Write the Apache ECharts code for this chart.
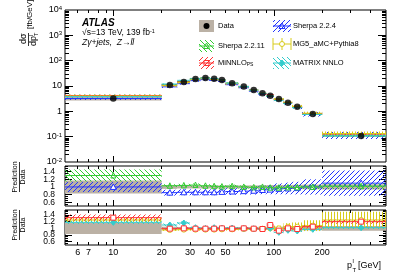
<!DOCTYPE html>
<html><head><meta charset="utf-8">
<script src="https://cdn.jsdelivr.net/npm/echarts@6/dist/echarts.min.js"></script>
<style>html,body{margin:0;padding:0;background:#fff}#c{width:407px;height:276px}</style>
</head><body><div id="c"></div>
<script>
// ---- data ----
const binLo = [5,20,25,30,35,40,45,50,60,70,80,90,100,115,130,150,200];
const binHi = [20,25,30,35,40,45,50,60,70,80,90,100,115,130,150,200,500];
const binCenter = [10,22.5,27.5,32.5,37.5,42.5,47.5,55,65,75,85,95,107.5,122.5,140,175,350];
const dataXsec = [3.2,10.9,14.4,18.9,20.7,19.4,17.3,12.8,9.6,6.95,5.14,4.14,3.07,2.19,1.52,0.78,0.106];
const dataRelUnc = [0.17,0.05,0.04,0.04,0.04,0.04,0.04,0.04,0.04,0.04,0.045,0.05,0.05,0.05,0.055,0.06,0.07];
const ratioSherpa2211 = [1.30,1.03,1.04,1.05,1.03,1.02,1.01,1.02,1.00,0.99,1.00,0.98,0.98,0.99,0.99,1.00,1.02];
const uncSherpa2211 = [0.12,0.04,0.04,0.04,0.04,0.04,0.04,0.04,0.04,0.04,0.04,0.04,0.05,0.05,0.05,0.06,0.07];
const ratioSherpa224 = [1.00,0.85,0.86,0.86,0.86,0.86,0.87,0.88,0.89,0.90,0.92,0.93,0.95,0.96,0.97,1.00,1.10];
const uncSherpa224 = [0.13,0.09,0.09,0.09,0.09,0.09,0.09,0.10,0.10,0.11,0.12,0.13,0.15,0.16,0.17,0.20,0.30];
const ratioMiNNLO = [1.32,0.99,1.00,0.99,0.99,0.99,1.00,0.99,1.00,0.99,0.98,1.10,0.93,1.00,0.98,1.05,1.20];
const uncMiNNLO = [0.07,0.03,0.03,0.03,0.03,0.03,0.03,0.03,0.03,0.03,0.03,0.04,0.04,0.04,0.04,0.05,0.05];
const ratioMG5 = [1.25,0.95,0.96,0.96,0.96,0.96,0.97,0.97,0.98,0.98,0.99,1.00,1.00,1.05,1.05,1.08,1.25];
const uncMG5 = [0.05,0.03,0.03,0.03,0.03,0.03,0.03,0.04,0.04,0.05,0.06,0.07,0.08,0.10,0.12,0.15,0.20];
const ratioMATRIX = [1.18,1.10,1.16,1.02,1.00,1.02,1.01,1.01,1.00,0.99,0.98,1.00,0.88,0.94,0.92,0.97,1.02];
const uncMATRIX = [0.04,0.04,0.04,0.03,0.03,0.03,0.03,0.03,0.03,0.03,0.03,0.03,0.03,0.03,0.03,0.03,0.04];
const xTickLabels = [6,7,10,20,30,40,50,100,200];
const yMainLabels = [0.01,0.1,1,10,100,1000,10000];
const ratioTickLabels = [0.6,0.8,1,1.2,1.4];

// ---- helpers ----
const FONT = 'Liberation Sans';
const C = {grey:'#bbb1a5', green:'#33cc33', blue:'#2233ff', red:'#ff3333', yellow:'#d8cc1a', cyan:'#33cccc'};
const patCache = {};
function hatch(color, dir, s) {
  s = s || 5;
  const key = color + dir + s;
  if (patCache[key]) return patCache[key];
  const c = document.createElement('canvas'); c.width = s; c.height = s;
  const ctx = c.getContext('2d');
  ctx.strokeStyle = color; ctx.lineWidth = 1;
  ctx.beginPath();
  if (dir === '/') { ctx.moveTo(-1, s + 1); ctx.lineTo(s + 1, -1); }
  else if (dir === '\\') { ctx.moveTo(-1, -1); ctx.lineTo(s + 1, s + 1); }
  else { ctx.moveTo(s / 2, 0); ctx.lineTo(s / 2, s); }
  ctx.stroke();
  return (patCache[key] = {image: c, repeat: 'repeat'});
}
function markerEl(type, p, color, r) {
  r = r || 2.5;
  const st = {fill: '#fff', stroke: color, lineWidth: 1};
  if (type === 'circle') return {type:'circle', shape:{cx:p[0], cy:p[1], r:r}, style:st};
  if (type === 'square') return {type:'rect', shape:{x:p[0]-r, y:p[1]-r, width:2*r, height:2*r}, style:st};
  if (type === 'tri') return {type:'polygon', shape:{points:[[p[0],p[1]-r-0.5],[p[0]+r+0.5,p[1]+r],[p[0]-r-0.5,p[1]+r]]}, style:st};
  if (type === 'star') return {type:'polygon', shape:{points:[[p[0],p[1]-r-0.5],[p[0]+r,p[1]+r],[p[0]-r,p[1]+r]]}, style:{fill:'none', stroke:color, lineWidth:1}};
  return {type:'polygon', shape:{points:[[p[0],p[1]-r-0.5],[p[0]+r,p[1]],[p[0],p[1]+r+0.5],[p[0]-r,p[1]]]}, style:{fill: color, stroke: color, lineWidth: 1}};
}

const grids = [
  {left:65, top:10, width:321, height:152},
  {left:65, top:166, width:321, height:40},
  {left:65, top:210, width:321, height:35}
].map(g => Object.assign(g, {show:true, borderColor:'#000', borderWidth:1, backgroundColor:'transparent', containLabel:false}));

const xAxes = [], yAxes = [];
const majX = [10,100], minX = [6,7,8,9,20,30,40,50,60,70,80,90,200,300,400];
function addX(g, pos, ticks, len, labels) {
  xAxes.push({type:'log', logBase:10, gridIndex:g, min:5, max:500, position:pos,
    axisLine:{show:false}, splitLine:{show:false}, minorTick:{show:false},
    axisTick:{show:true, inside:true, length:len, customValues:ticks, lineStyle:{color:'#000', width:1}},
    axisLabel: labels ? {show:true, customValues:labels, margin:3, fontSize:9, color:'#000', fontFamily:FONT, hideOverlap:false} : {show:false}
  });
  return xAxes.length - 1;
}
function addY(g, pos, type, min, max, ticks, len, labelCfg) {
  const ax = {type:type, gridIndex:g, min:min, max:max, position:pos,
    axisLine:{show:false}, splitLine:{show:false}, minorTick:{show:false},
    axisTick: ticks ? {show:true, inside:true, length:len, customValues:ticks, lineStyle:{color:'#000', width:1}} : {show:false},
    axisLabel: labelCfg ? Object.assign({show:true, color:'#000', fontFamily:FONT, hideOverlap:false}, labelCfg) : {show:false}
  };
  if (type === 'log') ax.logBase = 10;
  yAxes.push(ax);
  return yAxes.length - 1;
}
const xIdx = [], yIdx = [];
for (let g = 0; g < 3; g++) {
  xIdx[g] = addX(g, 'bottom', majX, 6, g === 2 ? xTickLabels : null);
  addX(g, 'bottom', minX, 3);
  addX(g, 'top', majX, 6);
  addX(g, 'top', minX, 3);
}
// main y
const yMajor = [0.1,1,10,100,1000];
const yMinor = [];
for (let e = -2; e <= 3; e++) for (let m = 2; m <= 9; m++) yMinor.push(Number((m * Math.pow(10, e)).toPrecision(3)));
yIdx[0] = addY(0, 'left', 'log', 0.01, 10000, yMajor, 8, {customValues: yMainLabels, margin: 3, fontSize: 9,
  formatter: v => { const e = Math.round(Math.log10(v)); if (e === 0) return '1'; if (e === 1) return '10'; return '10{s|' + e + '}'; },
  rich: {s: {fontSize: 6, verticalAlign: 'top', lineHeight: 6, fontFamily: FONT, color:'#000'}}});
addY(0, 'left', 'log', 0.01, 10000, yMinor, 4);
addY(0, 'right', 'log', 0.01, 10000, yMajor, 8);
addY(0, 'right', 'log', 0.01, 10000, yMinor, 4);
const rMinor = [];
for (let i = 11; i <= 31; i++) rMinor.push(Number((i * 0.05).toFixed(2)));
for (let g = 1; g <= 2; g++) {
  yIdx[g] = addY(g, 'left', 'value', 0.5, 1.55, ratioTickLabels, 7, null);
  addY(g, 'left', 'value', 0.5, 1.55, rMinor, 3);
  addY(g, 'right', 'value', 0.5, 1.55, ratioTickLabels, 7);
  addY(g, 'right', 'value', 0.5, 1.55, rMinor, 3);
  // one label per axis so no label is dropped as overlapping
  ratioTickLabels.forEach(v => addY(g, 'left', 'value', 0.5, 1.55, null, 0,
    {customValues: [v], margin: 10, fontSize: 8.5, formatter: t => String(t)}));
}

function predSeries(g, ratio, unc, color, dir, marker, z) {
  const isMain = g === 0;
  return {
    type: 'custom', xAxisIndex: xIdx[g], yAxisIndex: yIdx[g], z: z, clip: true, silent: true,
    data: binCenter.map((c, i) => {
      const base = isMain ? dataXsec[i] : 1;
      const v = base * ratio[i];
      return [binLo[i], binHi[i], v * (1 - unc[i]), v * (1 + unc[i]), v, c];
    }),
    renderItem(params, api) {
      const a = api.coord([api.value(0), api.value(3)]);
      const b = api.coord([api.value(1), api.value(2)]);
      const l = api.coord([api.value(0), api.value(4)]);
      const r = api.coord([api.value(1), api.value(4)]);
      const m = api.coord([api.value(5), api.value(4)]);
      const ch = [
        {type:'rect', shape:{x:a[0], y:a[1], width:b[0]-a[0], height:Math.max(1.5, b[1]-a[1])}, style:{fill: hatch(color, dir, dir === '|' ? 3 : 5)}},
        {type:'line', shape:{x1:l[0], y1:l[1], x2:r[0], y2:r[1]}, style:{stroke: color, lineWidth: 1}}
      ];
      if (!isMain) ch.push(markerEl(marker, m, color));
      return {type:'group', children: ch};
    }
  };
}
function dataBand(g) {
  const isMain = g === 0;
  return {
    type:'custom', xAxisIndex: xIdx[g], yAxisIndex: yIdx[g], z: 1, clip: true, silent: true,
    data: binCenter.map((c, i) => {
      const base = isMain ? dataXsec[i] : 1;
      return [binLo[i], binHi[i], base * (1 - dataRelUnc[i]), base * (1 + dataRelUnc[i])];
    }),
    renderItem(params, api) {
      const a = api.coord([api.value(0), api.value(3)]);
      const b = api.coord([api.value(1), api.value(2)]);
      return {type:'rect', shape:{x:a[0], y:a[1], width:b[0]-a[0], height:Math.max(1, b[1]-a[1])}, style:{fill: C.grey}};
    }
  };
}
const series = [
  dataBand(0), dataBand(1), dataBand(2),
  predSeries(0, ratioSherpa224, uncSherpa224, C.blue, '/', 'tri', 3),
  predSeries(0, ratioSherpa2211, uncSherpa2211, C.green, '\\', 'star', 3),
  predSeries(0, ratioMiNNLO, uncMiNNLO, C.red, '/', 'square', 3),
  predSeries(0, ratioMG5, uncMG5, C.yellow, '|', 'circle', 3),
  predSeries(0, ratioMATRIX, uncMATRIX, C.cyan, '\\', 'diamond', 3),
  predSeries(1, ratioSherpa224, uncSherpa224, C.blue, '/', 'tri', 3),
  predSeries(1, ratioSherpa2211, uncSherpa2211, C.green, '\\', 'star', 4),
  predSeries(2, ratioMG5, uncMG5, C.yellow, '|', 'circle', 3),
  predSeries(2, ratioMATRIX, uncMATRIX, C.cyan, '\\', 'diamond', 4),
  predSeries(2, ratioMiNNLO, uncMiNNLO, C.red, '/', 'square', 5),
  {type:'scatter', xAxisIndex: xIdx[0], yAxisIndex: yIdx[0], z: 10, silent: true, symbol:'circle', symbolSize: 6.5,
   itemStyle:{color:'#000'}, data: binCenter.map((c, i) => [c, dataXsec[i]])}
];

function txt(x, y, text, size, extra) {
  return {type:'text', x:x, y:y, silent:true, style:Object.assign({text:text, fontSize:size, fontFamily:FONT, fill:'#000', verticalAlign:'middle', align:'left'}, extra || {})};
}
const legendEls = [
  {type:'rect', shape:{x:199, y:20, width:15, height:12}, style:{fill:C.grey}},
  {type:'circle', shape:{cx:206.5, cy:26, r:3}, style:{fill:'#000'}},
  txt(218, 26, 'Data', 7.5),
  {type:'rect', shape:{x:199, y:40, width:15, height:12}, style:{fill:hatch(C.green, '\\')}},
  {type:'line', shape:{x1:199, y1:46, x2:214, y2:46}, style:{stroke:C.green}},
  {type:'polygon', shape:{points:[[206.5,43],[209.5,48.5],[203.5,48.5]]}, style:{fill:'none', stroke:C.green}},
  txt(218, 46, 'Sherpa 2.2.11', 7.5),
  {type:'rect', shape:{x:199, y:57, width:15, height:12}, style:{fill:hatch(C.red, '/')}},
  {type:'line', shape:{x1:199, y1:63, x2:214, y2:63}, style:{stroke:C.red}},
  {type:'rect', shape:{x:204, y:60.5, width:5, height:5}, style:{fill:'none', stroke:C.red}},
  txt(218, 63, 'MiNNLO{s|PS}', 7.5, {rich:{s:{fontSize:5, verticalAlign:'bottom', lineHeight:5, fontFamily:FONT}}}),
  {type:'rect', shape:{x:273, y:20, width:18, height:12}, style:{fill:hatch(C.blue, '/')}},
  {type:'line', shape:{x1:273, y1:26, x2:291, y2:26}, style:{stroke:C.blue}},
  {type:'polygon', shape:{points:[[282,23],[285,28.5],[279,28.5]]}, style:{fill:'none', stroke:C.blue}},
  txt(293, 26, 'Sherpa 2.2.4', 7.5),
  {type:'line', shape:{x1:273, y1:44, x2:291, y2:44}, style:{stroke:C.yellow}},
  {type:'line', shape:{x1:282, y1:38, x2:282, y2:50}, style:{stroke:C.yellow}},
  {type:'line', shape:{x1:273, y1:38, x2:273, y2:50}, style:{stroke:C.yellow}},
  {type:'line', shape:{x1:291, y1:38, x2:291, y2:50}, style:{stroke:C.yellow}},
  {type:'circle', shape:{cx:282, cy:44, r:2.5}, style:{fill:'#fff', stroke:C.yellow}},
  txt(293, 44, 'MG5_aMC+Pythia8', 7.5),
  {type:'rect', shape:{x:273, y:57, width:18, height:12}, style:{fill:hatch(C.cyan, '\\')}},
  {type:'line', shape:{x1:273, y1:63, x2:291, y2:63}, style:{stroke:C.cyan}},
  {type:'polygon', shape:{points:[[282,60],[284.5,63],[282,66],[279.5,63]]}, style:{fill:C.cyan, stroke:C.cyan}},
  txt(293, 63, 'MATRIX NNLO', 7.5)
];
const labelEls = [
  txt(82, 23, 'ATLAS', 10, {fontWeight:'bold', fontStyle:'italic'}),
  txt(82, 33, '\u221As=13 TeV, 139 fb{s|-1}', 8.5, {rich:{s:{fontSize:5.5, verticalAlign:'top', lineHeight:5, fontFamily:FONT}}}),
  txt(82, 43, 'Z\u03B3+jets,  Z\u2192ll', 8.5, {fontStyle:'italic'}),
  // x axis title
  txt(347, 266, 'p', 9),
  txt(352.5, 261, 'l', 6),
  txt(352.5, 270, 'T', 6),
  txt(358, 266, '[GeV]', 9),
  // main y title (rotated)
  {type:'group', x:28.5, y:46, rotation:Math.PI/2, children:[
    txt(2, -5, 'd\u03C3', 9),
    {type:'line', shape:{x1:0, y1:0, x2:13, y2:0}, style:{stroke:'#000', lineWidth:0.8}},
    txt(0, 5, 'dp', 9),
    txt(10, 3, 'l', 5.5),
    txt(10, 8, 'T', 5.5),
    txt(17, 1, '[fb/GeV]', 8)
  ]},
  // ratio titles
  {type:'group', x:19.5, y:177, rotation:Math.PI/2, children:[
    txt(0, -4.5, 'Prediction', 7, {align:'center'}),
    {type:'line', shape:{x1:-15, y1:0, x2:15, y2:0}, style:{stroke:'#000', lineWidth:0.8}},
    txt(0, 4, 'Data', 7, {align:'center'})
  ]},
  {type:'group', x:19.5, y:225, rotation:Math.PI/2, children:[
    txt(0, -4.5, 'Prediction', 7, {align:'center'}),
    {type:'line', shape:{x1:-15, y1:0, x2:15, y2:0}, style:{stroke:'#000', lineWidth:0.8}},
    txt(0, 4, 'Data', 7, {align:'center'})
  ]}
];

const chart = echarts.init(document.getElementById('c'), null, {renderer:'canvas'});
chart.setOption({
  animation: false,
  backgroundColor: '#fff',
  grid: grids,
  xAxis: xAxes,
  yAxis: yAxes,
  series: series,
  graphic: {elements: legendEls.concat(labelEls)}
});
</script></body></html>
